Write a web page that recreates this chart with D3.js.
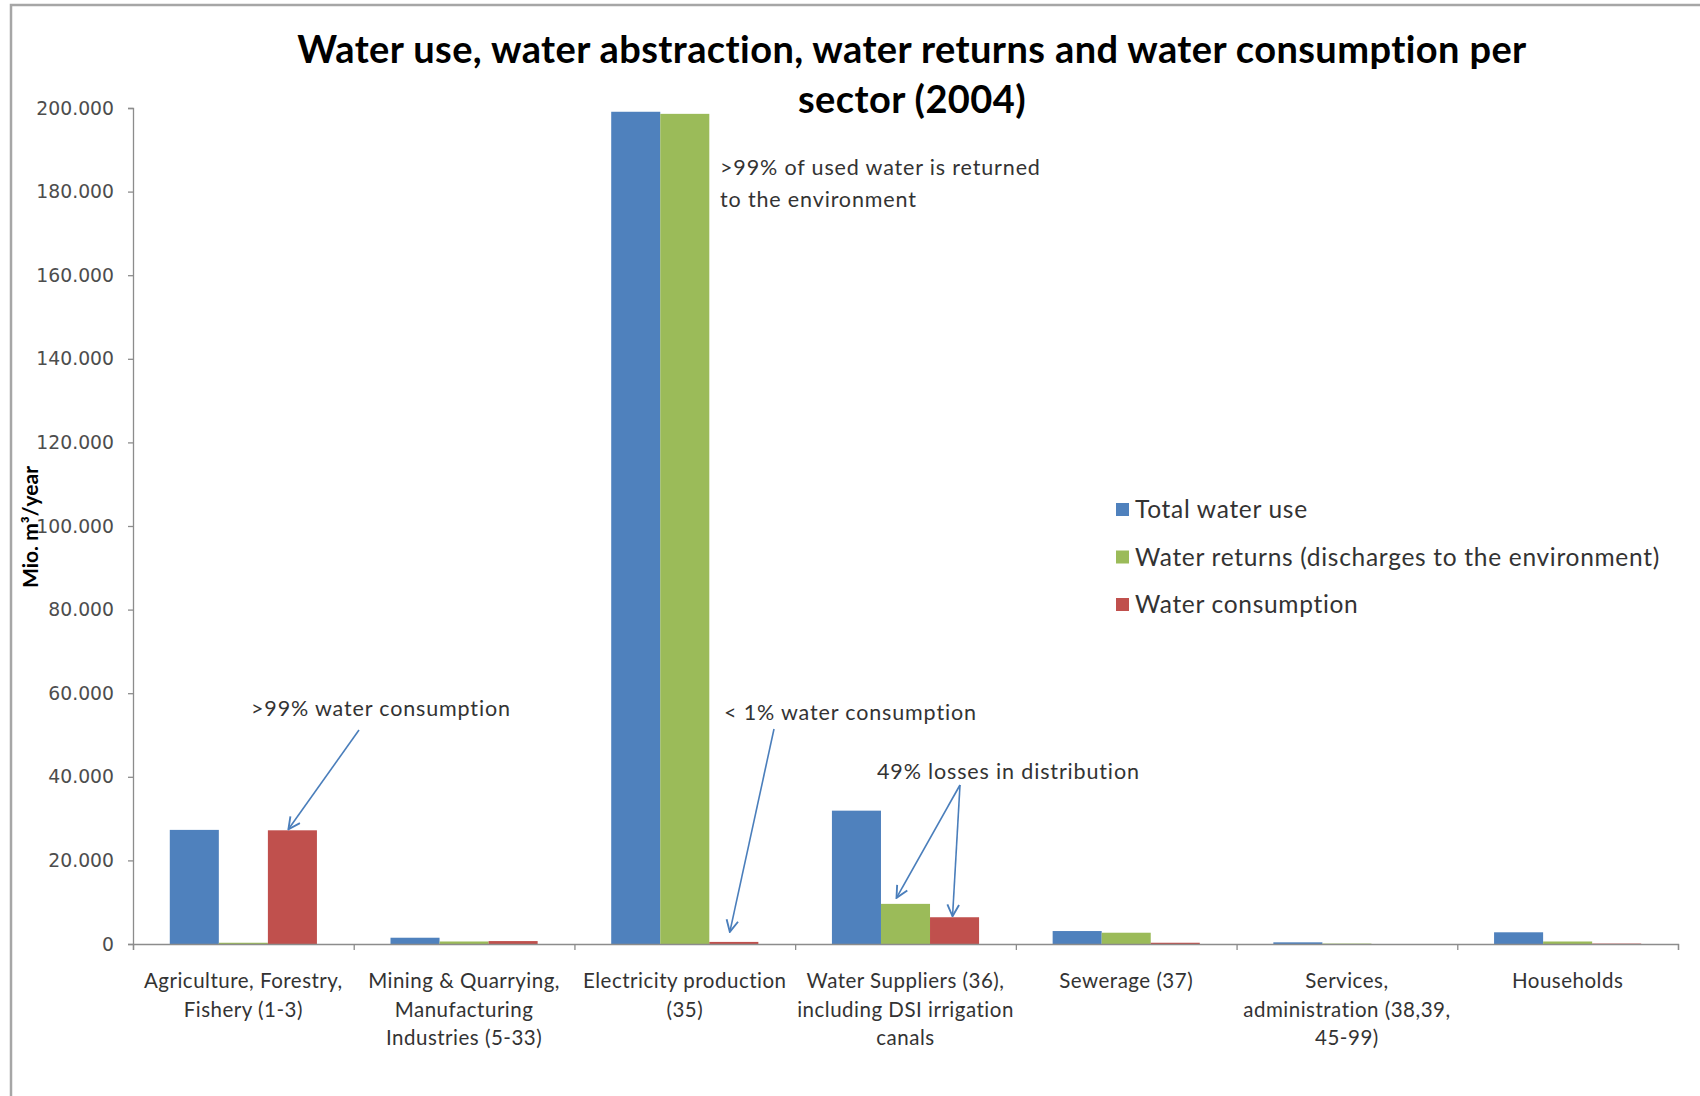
<!DOCTYPE html>
<html>
<head>
<meta charset="utf-8">
<script src="https://cdn.jsdelivr.net/npm/d3@7"></script>
<style>
  html, body { margin: 0; padding: 0; background: #fff; }
  svg { display: block; }
</style>
</head>
<body>
<svg id="chart" width="1700" height="1096"></svg>
<script>
// ---------- data ----------
const categoryLabels = [
  ["Agriculture, Forestry,", "Fishery (1-3)"],
  ["Mining & Quarrying,", "Manufacturing", "Industries (5-33)"],
  ["Electricity production", "(35)"],
  ["Water Suppliers (36),", "including DSI irrigation", "canals"],
  ["Sewerage (37)"],
  ["Services,", "administration (38,39,", "45-99)"],
  ["Households"]
];
const seriesNames = ["Total water use", "Water returns (discharges to the environment)", "Water consumption"];
const totalWaterUse     = [27300, 1500, 199100, 31900, 3100, 400, 2800];
const waterReturns      = [300,   600,  198600, 9600,  2700, 100, 600];
const waterConsumption  = [27200, 700,  500,    6400,  300,  0,   100];
const yTicks = [0, 20000, 40000, 60000, 80000, 100000, 120000, 140000, 160000, 180000, 200000];
const titleLines = ["Water use, water abstraction, water returns and water consumption per", "sector (2004)"];
const yAxisTitle = "Mio. m³/year";

// ---------- layout ----------
const W = 1700, H = 1096;
const plot = { left: 133, right: 1678, top: 108, bottom: 944 };
const colors = ["#4F81BD", "#9BBB59", "#C0504D"];
const seriesData = [totalWaterUse, waterReturns, waterConsumption];
const cats = categoryLabels.map((d, i) => i);

const svg = d3.select("#chart");

// outer frame
svg.append("path")
  .attr("d", `M11,${H} L11,5 L${W},5`)
  .attr("fill", "none").attr("stroke", "#a6a6a6").attr("stroke-width", 2.5);

const x0 = d3.scaleBand().domain(cats).range([plot.left, plot.right]).paddingInner(0).paddingOuter(0);
const x1 = d3.scaleBand().domain([0, 1, 2]).range([0, x0.bandwidth()]).paddingInner(0).paddingOuter(0.75);
const y = d3.scaleLinear().domain([0, 200000]).range([plot.bottom, plot.top]);

const loc = d3.formatLocale({ decimal: ",", thousands: ".", grouping: [3], currency: ["", ""] });
const fmt = loc.format(",d");

// title
svg.append("g").selectAll("text").data(titleLines).join("text")
  .attr("x", 912).attr("y", (d, i) => 63 + i * 50)
  .attr("text-anchor", "middle")
  .attr("font-family", "Lato, 'Open Sans', sans-serif")
  .attr("font-weight", "bold").attr("font-size", 38).attr("letter-spacing", 0.4).attr("fill", "#000")
  .text(d => d);

// bars
const gBars = svg.append("g");
seriesData.forEach((vals, s) => {
  gBars.append("g").attr("fill", colors[s]).selectAll("rect").data(vals).join("rect")
    .attr("x", (d, i) => x0(i) + x1(s))
    .attr("width", x1.bandwidth())
    .attr("y", d => y(d))
    .attr("height", d => y(0) - y(d));
});

// y axis
const yAxis = d3.axisLeft(y).tickValues(yTicks).tickFormat(fmt).tickSize(5).tickPadding(14);
const gy = svg.append("g").attr("transform", `translate(${plot.left},0)`).call(yAxis);
gy.select(".domain").attr("stroke", "#8c8c8c").attr("stroke-width", 1.3);
gy.selectAll(".tick line").attr("stroke", "#8c8c8c").attr("stroke-width", 1.3);
gy.selectAll(".tick text").attr("font-family", "'DejaVu Sans', sans-serif").attr("font-size", 18.8).attr("fill", "#4d4d4d");

// x axis
const xAxis = d3.axisBottom(d3.scaleLinear().domain([0, cats.length]).range([plot.left, plot.right]))
  .tickValues(d3.range(cats.length + 1)).tickSize(6).tickFormat("");
const gx = svg.append("g").attr("transform", `translate(0,${plot.bottom})`).call(xAxis);
gx.select(".domain").attr("stroke", "#8c8c8c").attr("stroke-width", 1.3);
gx.selectAll(".tick line").attr("stroke", "#8c8c8c").attr("stroke-width", 1.3);

// category labels
const gLab = svg.append("g").attr("font-family", "Lato, sans-serif").attr("font-size", 20.5).attr("letter-spacing", 0.5).attr("fill", "#333").attr("text-anchor", "middle");
categoryLabels.forEach((lines, i) => {
  gLab.append("text").selectAll("tspan").data(lines).join("tspan")
    .attr("x", x0(i) + x0.bandwidth() / 2)
    .attr("y", (d, j) => 988 + j * 28.7)
    .text(d => d);
});

// y axis title
svg.append("text")
  .attr("transform", "translate(38,527) rotate(-90)")
  .attr("text-anchor", "middle")
  .attr("font-family", "Lato, sans-serif").attr("font-weight", "bold").attr("font-size", 21).attr("fill", "#000")
  .text(yAxisTitle);

// legend
const gLeg = svg.append("g").attr("font-family", "Lato, sans-serif").attr("font-size", 24.5).attr("letter-spacing", 0.7).attr("fill", "#333");
seriesNames.forEach((n, i) => {
  const yy = 510 + i * 47.5;
  gLeg.append("rect").attr("x", 1116).attr("y", yy - 7).attr("width", 13).attr("height", 13).attr("fill", colors[i]);
  gLeg.append("text").attr("x", 1135).attr("y", yy + 8).text(n);
});

// annotations
const defs = svg.append("defs");
defs.append("marker").attr("id", "arr").attr("viewBox", "0 0 12 12").attr("refX", 11).attr("refY", 6)
  .attr("markerWidth", 14).attr("markerHeight", 14).attr("markerUnits", "userSpaceOnUse").attr("orient", "auto")
  .append("path").attr("d", "M1,1 L11,6 L1,11").attr("fill", "none").attr("stroke", "#4a7ebb").attr("stroke-width", 1.6);

const gAnn = svg.append("g").attr("font-family", "Lato, sans-serif").attr("font-size", 21.5).attr("letter-spacing", 0.85).attr("fill", "#333");
function arrow(x1p, y1p, x2p, y2p) {
  svg.append("line").attr("x1", x1p).attr("y1", y1p).attr("x2", x2p).attr("y2", y2p)
    .attr("stroke", "#4a7ebb").attr("stroke-width", 1.6).attr("marker-end", "url(#arr)");
}
const barCenter = (cat, s) => x0(cat) + x1(s) + x1.bandwidth() / 2;

gAnn.append("text").attr("x", 251).attr("y", 716).text(">99% water consumption");
arrow(359, 730, barCenter(0, 2) - 4, y(waterConsumption[0]) - 1);

gAnn.append("text").attr("x", 720).attr("y", 175).text(">99% of used water is returned");
gAnn.append("text").attr("x", 720).attr("y", 207).text("to the environment");

gAnn.append("text").attr("x", 724).attr("y", 720).text("< 1% water consumption");
arrow(774, 729, barCenter(2, 2) - 4, y(waterConsumption[2]) - 10);

gAnn.append("text").attr("x", 877).attr("y", 779).text("49% losses in distribution");
arrow(960, 785, barCenter(3, 1) - 9, y(waterReturns[3]) - 6);
arrow(960, 785, barCenter(3, 2) - 2, y(waterConsumption[3]) - 1);
</script>
</body>
</html>
